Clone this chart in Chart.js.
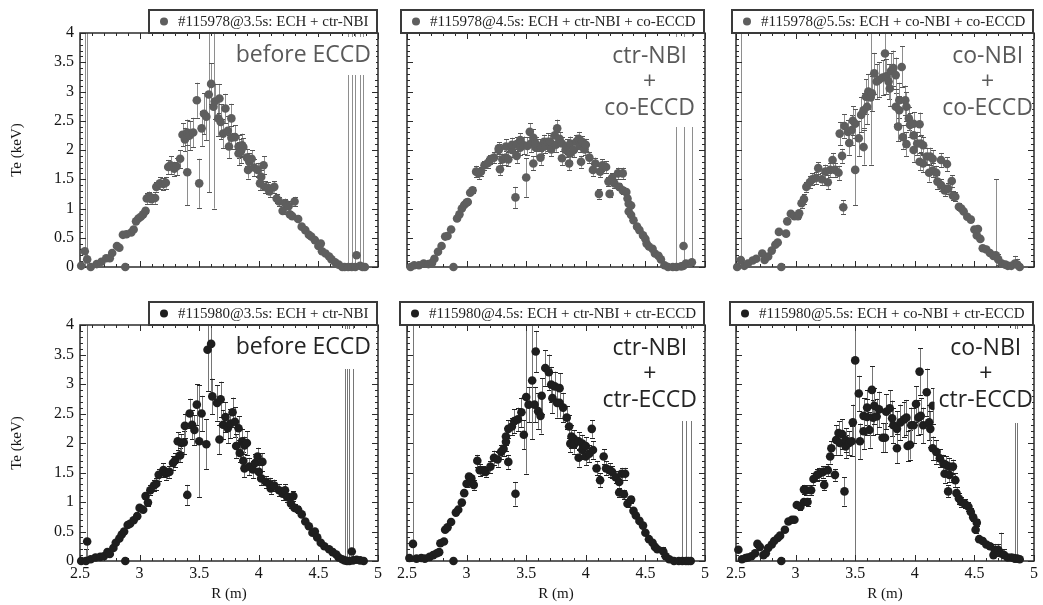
<!DOCTYPE html>
<html><head><meta charset="utf-8">
<script src="https://cdn.jsdelivr.net/npm/chart.js@4.4.1/dist/chart.umd.min.js"></script>
<style>
html,body{margin:0;padding:0;background:#fff;}
#wrap{position:relative;width:1043px;height:605px;overflow:hidden;}
#wrap canvas{position:absolute;left:0;top:0;}
</style></head><body><div id="wrap"></div>
<script>
// ---------- DATA ----------
const legendLabels = [
  '#115978@3.5s: ECH + ctr-NBI',
  '#115978@4.5s: ECH + ctr-NBI + co-ECCD',
  '#115978@5.5s: ECH + co-NBI + co-ECCD',
  '#115980@3.5s: ECH + ctr-NBI',
  '#115980@4.5s: ECH + ctr-NBI + ctr-ECCD',
  '#115980@5.5s: ECH + co-NBI + ctr-ECCD'
];
const noteTexts = [
  ['before ECCD'],
  ['ctr-NBI', '+', 'co-ECCD'],
  ['co-NBI', '+', 'co-ECCD'],
  ['before ECCD'],
  ['ctr-NBI', '+', 'ctr-ECCD'],
  ['co-NBI', '+', 'ctr-ECCD']
];
const xTitle = 'R (m)';
const yTitle = 'Te (keV)';

// Panel 1: #115978@3.5s
const r1 = [
2.51,2.54,2.56,2.59,2.64,2.68,2.72,2.75,2.77,2.81,
2.83,2.86,2.88,2.89,2.93,2.95,2.97,2.99,3.01,3.03,
3.05,3.06,3.08,3.10,3.13,3.14,3.17,3.20,3.22,3.24,
3.26,3.29,3.31,3.34,3.36,3.38,3.40,3.40,3.42,3.45,
3.48,3.50,3.52,3.54,3.56,3.58,3.60,3.62,3.63,3.66,
3.67,3.68,3.70,3.72,3.74,3.75,3.77,3.77,3.80,3.83,
3.83,3.85,3.86,3.87,3.90,3.91,3.92,3.94,3.96,3.99,
4.01,4.02,4.04,4.05,4.08,4.09,4.13,4.15,4.17,4.20,
4.22,4.25,4.26,4.28,4.30,4.33,4.36,4.39,4.42,4.44,
4.47,4.50,4.52,4.53,4.56,4.59,4.61,4.64,4.67,4.70,
4.72,4.75,4.78,4.81,4.82,4.85,4.87,4.89];
const te1 = [
0.02,0.27,0.13,0.00,0.05,0.09,0.15,0.15,0.24,0.36,
0.33,0.55,0.00,0.56,0.59,0.64,0.78,0.83,0.86,0.90,
0.96,1.17,1.21,1.16,1.18,1.37,1.43,1.42,1.44,1.71,
1.74,1.68,1.72,1.85,2.26,2.18,1.62,2.30,2.25,2.30,
2.85,1.43,2.37,2.62,2.57,2.95,3.13,2.74,2.83,2.54,
2.88,2.48,2.28,2.71,2.33,2.06,2.54,2.21,2.22,2.06,
1.94,1.98,2.08,2.05,1.87,1.66,1.80,1.85,1.70,1.66,
1.43,1.54,1.74,1.37,1.35,1.29,1.37,1.17,1.12,0.96,
1.09,1.04,0.90,0.87,1.12,0.82,0.69,0.63,0.55,0.52,
0.46,0.36,0.40,0.27,0.23,0.18,0.13,0.08,0.04,0.00,
0.00,0.00,0.00,0.00,0.20,0.02,0.00,0.00];
const er1 = [
0,5,5,0,0,0,0,0,0,0,
0,0,0,0,0,0,0,0,0,0,
0.03,0.1,0.08,0.08,0.1,0.08,0.1,0.1,0.1,0.12,
0.15,0.12,0.15,0.15,0.2,0.2,0.56,0.22,0.25,0.25,
0.3,0.42,0.3,0.35,0.4,1.67,0.35,1.74,0.3,0.3,
0.25,0.3,0.25,0.25,0.25,0.2,0.25,0.2,0.2,0.2,
0.2,0.2,0.2,0.15,0.15,0.15,0.15,0.15,0.15,0.12,
0.12,0.12,0.15,0.1,0.1,0.1,0.1,0.08,0.08,0.06,
0.08,0.08,0.05,0.05,0.08,0.03,0,0,0,0,
0,0,0,0,0,0,0,0,0,0,
0,5,5,5,0,5,5,0];

// Panel 2: #115978@4.5s
const r2 = [
2.53,2.56,2.60,2.64,2.68,2.71,2.73,2.76,2.79,2.82,
2.84,2.87,2.89,2.92,2.94,2.96,2.98,3.00,3.01,3.03,
3.05,3.08,3.10,3.12,3.15,3.18,3.20,3.23,3.27,3.27,
3.28,3.30,3.33,3.33,3.35,3.38,3.38,3.41,3.42,3.42,
3.45,3.45,3.48,3.50,3.51,3.53,3.54,3.56,3.56,3.58,
3.58,3.62,3.62,3.63,3.65,3.66,3.68,3.70,3.71,3.74,
3.75,3.76,3.78,3.80,3.80,3.83,3.84,3.86,3.87,3.87,
3.90,3.92,3.94,3.95,3.96,3.97,3.99,4.00,4.03,4.06,
4.08,4.11,4.12,4.14,4.17,4.19,4.20,4.22,4.24,4.27,
4.28,4.31,4.31,4.34,4.35,4.36,4.36,4.38,4.38,4.40,
4.43,4.45,4.48,4.50,4.51,4.53,4.56,4.58,4.61,4.63,
4.66,4.69,4.73,4.76,4.80,4.82,4.82,4.84,4.89];
const te2 = [
0.00,0.03,0.03,0.06,0.05,0.07,0.14,0.26,0.36,0.52,
0.53,0.64,0.00,0.83,0.90,1.00,1.06,1.10,1.11,1.27,
1.31,1.63,1.60,1.63,1.74,1.78,1.84,1.87,2.00,2.03,
1.67,1.84,1.87,2.06,1.84,2.00,2.09,1.19,1.90,2.10,
2.04,2.17,2.08,1.53,2.07,2.31,2.11,1.77,2.21,2.04,
2.11,1.87,2.06,2.04,2.14,2.07,2.14,2.14,2.01,2.25,
2.09,2.37,2.19,1.86,2.11,2.00,2.06,1.77,1.94,2.11,
2.00,2.14,2.19,2.07,1.80,2.14,2.01,2.09,1.87,1.66,
1.77,1.25,1.63,1.74,1.71,1.46,1.25,1.52,1.43,1.60,
1.37,1.60,1.31,1.28,1.17,1.08,0.95,1.05,0.89,0.80,
0.69,0.63,0.54,0.48,0.40,0.35,0.31,0.23,0.19,0.13,
0.03,0.00,0.00,0.00,0.01,0.02,0.36,0.06,0.08];
const er2 = [
0,0,0,0,0,0,0,0,0,0,
0,0,0,0,0,0,0,0,0,0.03,
0.05,0.1,0.1,0.08,0.08,0.08,0.08,0.1,0.1,0.1,
0.1,0.1,0.12,0.12,0.12,0.12,0.12,0.18,0.12,0.12,
0.12,0.12,0.15,0.33,0.15,0.15,0.15,0.12,0.15,0.15,
0.12,0.12,0.12,0.12,0.12,0.12,0.15,0.12,0.12,0.12,
0.12,0.15,0.12,0.12,0.12,0.12,0.12,0.12,0.12,0.12,
0.12,0.12,0.12,0.1,0.1,0.1,0.1,0.1,0.1,0.1,
0.1,0.08,0.1,0.1,0.1,0.08,0.06,0.08,0.08,0.1,
0.06,0.1,0.06,0.05,0.04,0.03,0,0.03,0,0,
0,0,0,0,0,0,0,0,0,0,
0,0,0,5,0,5,0,0,5];

// Panel 3: #115978@5.5s
const r3 = [
2.51,2.54,2.57,2.60,2.64,2.67,2.72,2.74,2.77,2.80,
2.83,2.85,2.86,2.88,2.92,2.93,2.96,2.99,3.02,3.03,
3.05,3.07,3.09,3.12,3.14,3.17,3.19,3.22,3.25,3.27,
3.29,3.31,3.33,3.36,3.37,3.39,3.40,3.41,3.44,3.45,
3.47,3.48,3.50,3.50,3.53,3.55,3.57,3.57,3.59,3.60,
3.61,3.63,3.64,3.66,3.68,3.70,3.73,3.75,3.76,3.78,
3.79,3.80,3.82,3.84,3.84,3.86,3.87,3.87,3.89,3.90,
3.92,3.93,3.93,3.95,3.96,3.99,3.99,3.99,4.02,4.04,
4.04,4.05,4.07,4.07,4.10,4.12,4.13,4.15,4.15,4.18,
4.19,4.22,4.22,4.25,4.27,4.28,4.31,4.32,4.34,4.37,
4.39,4.41,4.44,4.47,4.50,4.52,4.53,4.55,4.57,4.60,
4.63,4.66,4.68,4.70,4.73,4.76,4.78,4.81,4.84,4.86,
4.88];
const te3 = [
0.00,0.12,0.02,0.06,0.11,0.14,0.23,0.12,0.18,0.28,
0.38,0.42,0.60,0.00,0.57,0.78,0.91,0.87,0.87,0.92,
1.09,1.16,1.37,1.45,1.50,1.52,1.69,1.50,1.63,1.45,
1.66,1.83,1.66,1.61,2.28,1.90,1.02,2.41,2.31,2.12,
2.34,2.50,1.66,2.45,2.20,2.60,2.05,2.68,2.91,2.74,
3.00,2.90,2.97,3.31,3.17,3.20,3.24,3.65,3.26,3.17,
3.05,3.35,3.40,3.28,2.74,2.40,2.85,2.68,3.42,2.22,
2.85,2.74,2.10,2.54,2.43,2.45,2.25,2.00,2.11,2.44,
1.80,2.11,2.08,1.77,1.89,1.61,1.89,1.85,1.65,1.61,
1.46,1.83,1.40,1.31,1.76,1.34,1.47,1.22,1.20,1.03,
1.00,0.95,0.86,0.81,0.64,0.54,0.65,0.48,0.32,0.30,
0.24,0.19,0.20,0.13,0.06,0.04,0.02,0.02,0.06,0.04,
0.00];
const er3 = [
0,5,0,0,0,0,0,0,0,0,
0,0,0,0,0,0,0,0,0.05,0.05,
0.08,0.08,0.08,0.1,0.1,0.1,0.1,0.1,0.12,0.12,
0.12,0.12,0.12,0.12,0.2,0.12,0.12,0.2,0.2,0.2,
0.25,0.25,0.6,0.25,0.3,0.3,0.3,0.3,0.3,0.3,
0.3,1.15,0.3,0.35,0.3,0.3,0.3,0.35,0.3,0.3,
0.3,0.3,0.3,0.3,0.3,0.25,0.3,0.25,0.35,0.2,
0.25,0.25,0.2,0.2,0.2,0.2,0.2,0.2,0.2,0.2,
0.15,0.15,0.15,0.15,0.15,0.15,0.15,0.15,0.12,0.12,
0.12,0.12,0.1,0.1,0.12,0.1,0.1,0.08,0.08,0.06,
0.05,0.05,0.04,0.04,0,0,0,0,0,0,
0,0,1.3,0.1,0,0,0,0,0.13,0.1,
0];

// Panel 4: #115980@3.5s
const r4 = [
2.51,2.55,2.56,2.59,2.63,2.67,2.70,2.73,2.75,2.78,
2.80,2.83,2.85,2.87,2.88,2.90,2.92,2.95,2.98,3.00,
3.03,3.05,3.07,3.09,3.12,3.14,3.16,3.20,3.22,3.25,
3.28,3.30,3.32,3.34,3.35,3.37,3.38,3.40,3.42,3.44,
3.46,3.48,3.50,3.52,3.56,3.57,3.60,3.61,3.65,3.67,
3.68,3.70,3.72,3.74,3.76,3.78,3.80,3.81,3.83,3.84,
3.86,3.87,3.88,3.88,3.90,3.92,3.95,3.97,3.99,4.00,
4.02,4.03,4.06,4.09,4.10,4.13,4.17,4.20,4.22,4.24,
4.27,4.29,4.30,4.33,4.36,4.39,4.42,4.45,4.47,4.49,
4.52,4.55,4.59,4.62,4.65,4.67,4.70,4.72,4.74,4.76,
4.78,4.79,4.82,4.85,4.88];
const te4 = [
0.00,0.00,0.33,0.03,0.06,0.07,0.08,0.15,0.12,0.22,
0.31,0.38,0.45,0.50,0.00,0.61,0.63,0.69,0.76,0.90,
0.87,1.10,0.99,1.20,1.28,1.31,1.46,1.54,1.48,1.51,
1.66,1.71,2.03,1.79,2.00,2.01,2.29,1.12,2.50,2.31,
2.22,2.65,2.03,2.50,1.98,3.58,3.68,2.79,2.68,2.06,
2.74,2.31,2.44,2.25,2.33,2.52,2.36,1.95,2.25,1.83,
2.03,1.70,1.96,1.57,2.00,1.60,1.55,1.66,1.77,1.51,
1.40,1.68,1.34,1.31,1.23,1.28,1.20,1.14,1.20,1.08,
0.97,1.10,0.90,0.87,0.79,0.67,0.59,0.48,0.50,0.40,
0.31,0.25,0.20,0.15,0.11,0.06,0.03,0.01,0.00,0.00,
0.16,0.01,0.02,0.01,0.00];
const er4 = [
0,0.2,5,0,0,0,0,0,0,0,
0,0,0,0,0,0,0,0,0,0.03,
0.03,0.05,0.05,0.08,0.1,0.1,0.1,0.12,0.1,0.1,
0.12,0.12,0.15,0.12,0.15,0.2,0.2,0.17,0.25,0.25,
0.25,0.35,0.95,0.3,0.42,0.7,0.9,0.3,0.3,0.25,
0.3,0.25,0.25,0.25,0.25,0.25,0.25,0.2,0.2,0.15,
0.2,0.15,0.15,0.15,0.2,0.15,0.15,0.15,0.15,0.12,
0.12,0.15,0.1,0.1,0.1,0.1,0.1,0.1,0.1,0.08,
0.08,0.08,0.06,0.06,0.03,0,0,0,0,0,
0,0,0,0,0,0,0,5,5,5,
0,5,0,0,0];

// Panel 5: #115980@4.5s
const r5 = [
2.52,2.55,2.58,2.62,2.65,2.69,2.72,2.75,2.77,2.78,
2.81,2.82,2.84,2.87,2.89,2.91,2.93,2.96,2.98,3.00,
3.02,3.04,3.06,3.09,3.11,3.14,3.16,3.20,3.23,3.26,
3.29,3.31,3.33,3.33,3.35,3.35,3.38,3.40,3.41,3.43,
3.46,3.48,3.50,3.52,3.55,3.57,3.58,3.60,3.62,3.63,
3.66,3.69,3.71,3.72,3.74,3.76,3.78,3.78,3.81,3.84,
3.86,3.87,3.88,3.90,3.90,3.94,3.94,3.97,3.97,4.00,
4.00,4.03,4.05,4.06,4.09,4.12,4.15,4.17,4.20,4.22,
4.25,4.28,4.28,4.30,4.32,4.33,4.35,4.38,4.40,4.42,
4.45,4.48,4.50,4.53,4.56,4.58,4.60,4.65,4.67,4.70,
4.74,4.78,4.81,4.84,4.86,4.88];
const te5 = [
0.05,0.29,0.04,0.05,0.04,0.07,0.10,0.13,0.15,0.30,
0.33,0.53,0.57,0.66,0.00,0.82,0.87,0.99,1.15,1.31,
1.43,1.40,1.29,1.70,1.54,1.53,1.51,1.60,1.75,1.72,
1.85,1.90,2.02,2.11,1.68,2.24,2.28,2.37,1.14,2.40,
2.52,2.14,2.78,2.65,3.06,2.65,3.55,2.54,2.46,2.80,
3.27,3.20,2.99,2.76,2.96,2.68,2.93,2.68,2.60,2.43,
2.28,1.99,2.11,2.07,1.97,2.03,1.75,1.99,1.88,1.95,
1.77,1.82,2.24,1.88,1.57,1.37,1.77,1.57,1.54,1.51,
1.42,1.34,1.16,1.48,1.13,1.48,0.97,1.04,0.85,0.77,
0.68,0.60,0.48,0.37,0.31,0.24,0.20,0.16,0.08,0.03,
0.00,0.00,0.00,0.00,0.00,0.00];
const er5 = [
0,5,0,0,0,0,0,0,0,0,
0,0,0,0,0,0,0,0,0,0.05,
0.06,0.06,0.08,0.1,0.1,0.08,0.08,0.1,0.12,0.12,
0.12,0.12,0.15,0.15,0.12,0.15,0.15,0.2,0.2,0.2,
0.25,0.25,1.3,0.3,1.0,0.3,0.35,0.3,0.3,0.3,
0.3,0.3,0.3,0.25,0.25,0.25,0.25,0.25,0.25,0.2,
0.2,0.15,0.2,0.15,0.15,0.15,0.15,0.15,0.15,0.15,
0.15,0.15,0.15,0.15,0.12,0.12,0.12,0.12,0.12,0.1,
0.1,0.1,0.08,0.1,0.08,0.1,0.05,0.06,0,0,
0,0,0,0,0,0,0,0.08,0,0,
0,0,5,5,0,5];

// Panel 6: #115980@5.5s
const r6 = [
2.52,2.55,2.58,2.60,2.63,2.66,2.68,2.70,2.73,2.75,
2.77,2.80,2.82,2.85,2.87,2.88,2.91,2.94,2.97,2.99,
3.01,3.04,3.07,3.07,3.09,3.10,3.13,3.15,3.18,3.20,
3.23,3.24,3.27,3.29,3.30,3.33,3.34,3.36,3.37,3.39,
3.41,3.42,3.42,3.45,3.47,3.48,3.50,3.53,3.54,3.57,
3.57,3.60,3.60,3.62,3.64,3.65,3.66,3.68,3.70,3.73,
3.75,3.76,3.79,3.81,3.82,3.85,3.85,3.88,3.91,3.93,
3.94,3.96,3.97,3.99,4.01,4.03,4.04,4.05,4.07,4.10,
4.12,4.13,4.15,4.15,4.18,4.21,4.24,4.25,4.26,4.28,
4.29,4.29,4.32,4.34,4.35,4.37,4.39,4.42,4.45,4.47,
4.49,4.51,4.52,4.54,4.57,4.60,4.63,4.66,4.67,4.70,
4.72,4.75,4.78,4.81,4.83,4.84,4.86,4.88];
const te6 = [
0.19,0.03,0.05,0.06,0.08,0.13,0.29,0.24,0.10,0.13,
0.22,0.28,0.34,0.39,0.43,0.00,0.53,0.67,0.70,0.70,
0.95,0.92,1.00,1.21,1.20,1.00,1.20,1.39,1.46,1.48,
1.51,1.29,1.54,1.77,1.91,1.46,2.05,2.17,2.00,2.15,
1.18,1.94,2.05,2.00,2.03,2.35,3.40,2.84,2.03,2.46,
2.20,2.60,2.44,2.22,2.90,2.43,2.63,2.45,2.57,2.09,
2.09,2.53,2.59,2.42,2.30,2.24,1.91,2.35,2.40,2.43,
1.95,1.97,2.30,2.30,2.66,2.43,3.21,2.46,2.30,2.86,
2.35,2.24,2.63,1.91,1.85,1.74,1.65,1.48,1.63,1.18,
1.60,1.46,1.60,1.37,1.15,1.06,1.00,0.97,0.92,0.83,
0.74,0.53,0.65,0.37,0.34,0.28,0.25,0.10,0.19,0.19,
0.13,0.10,0.06,0.06,0.05,0.04,0.04,0.03];
const er6 = [
0,0,0,0,0,0,0.05,0,0,0,
0,0,0,0,0,0,0,0,0,0,
0.05,0.05,0.05,0.08,0.08,0.06,0.08,0.1,0.1,0.1,
0.1,0.08,0.1,0.12,0.12,0.1,0.25,0.2,0.2,0.25,
0.24,0.2,0.2,0.2,0.25,0.3,5,0.3,0.3,0.3,
0.3,0.3,0.3,0.3,0.4,0.3,0.3,0.3,0.3,0.25,
0.25,0.3,0.3,0.3,0.3,0.3,0.25,0.3,0.3,0.3,
0.25,0.25,0.3,0.3,0.3,0.3,0.4,0.3,0.3,0.4,
0.3,0.3,0.3,0.2,0.2,0.15,0.15,0.15,0.15,0.1,
0.15,0.12,0.12,0.12,0.1,0.1,0.08,0.08,0.08,0.06,
0.06,0.06,0.06,0,0,0,0.05,0,0.1,0.1,
0.35,0.1,0.05,0.05,0,5,5,0];

const seriesR = [r1, r2, r3, r4, r5, r6];
const seriesTe = [te1, te2, te3, te4, te5, te6];
const seriesErr = [er1, er2, er3, er4, er5, er6];

// ---------- LAYOUT / STYLE ----------
const PW = 1043, PH = 605;
const colX = [[80, 378], [407, 705], [736, 1034]];
const rowY = [[33, 267], [325, 561]];
const YW = 72, XH = 42;
const rowStyle = [
  {point: '#5e5e5e', err: '#8e8e8e', cap: '#555555', note: '#5a5a5a'},
  {point: '#1e1e1e', err: '#767676', cap: '#222222', note: '#242424'}
];
const noteLayout = [
  {align: 'right', margin: 7, base: [29], boxB: 42},
  {align: 'center', margin: 10, base: [30, 56, 82], boxB: 94},
  {align: 'center', margin: 1, base: [30, 56, 82], boxB: 94},
  {align: 'right', margin: 7, base: [29], boxB: 44},
  {align: 'center', margin: 8, base: [30, 56, 82], boxB: 96},
  {align: 'center', margin: 1, base: [30, 56, 82], boxB: 98}
];
const SERIF = '"Liberation Serif", "Times New Roman", serif';
const SANS = '"Open Sans", "Noto Sans", sans-serif';
const fmtTick = v => String(Math.round(v * 10) / 10);

// ---------- PLUGINS ----------
const framePlugin = {
  id: 'frameErr',
  beforeDatasetsDraw(chart) {
    const {ctx, chartArea: a, scales: {x, y}} = chart;
    const ds = chart.data.datasets[0];
    ctx.save();
    ctx.beginPath();
    ctx.rect(a.left, a.top, a.right - a.left, a.bottom - a.top);
    ctx.clip();
    ds.data.forEach((p, i) => {
      const e = ds.errors[i];
      if (!e) return;
      const px = Math.round(x.getPixelForValue(p.x)) + 0.5;
      const yT = y.getPixelForValue(p.y + e), yB = y.getPixelForValue(p.y - e);
      ctx.lineWidth = 1;
      ctx.strokeStyle = ds.errColor;
      ctx.beginPath(); ctx.moveTo(px, yT); ctx.lineTo(px, yB); ctx.stroke();
      ctx.strokeStyle = ds.capColor;
      ctx.beginPath();
      ctx.moveTo(px - 2.5, Math.round(yT) + 0.5); ctx.lineTo(px + 2.5, Math.round(yT) + 0.5);
      ctx.moveTo(px - 2.5, Math.round(yB) + 0.5); ctx.lineTo(px + 2.5, Math.round(yB) + 0.5);
      ctx.stroke();
    });
    ctx.restore();
    // frame + inward ticks
    ctx.save();
    ctx.strokeStyle = '#2b2b2b';
    ctx.lineWidth = 1.5;
    ctx.strokeRect(a.left, a.top, a.right - a.left, a.bottom - a.top);
    ctx.lineWidth = 1;
    ctx.beginPath();
    for (let k = 0; k <= 25; k++) {
      const px = Math.round(x.getPixelForValue(2.5 + k * 0.1)) + 0.5;
      const L = k % 5 === 0 ? 6 : 3;
      ctx.moveTo(px, a.bottom); ctx.lineTo(px, a.bottom - L);
      ctx.moveTo(px, a.top); ctx.lineTo(px, a.top + L);
    }
    for (let k = 0; k <= 40; k++) {
      const py = Math.round(y.getPixelForValue(k * 0.1)) + 0.5;
      const L = k % 5 === 0 ? 6 : 3;
      ctx.moveTo(a.left, py); ctx.lineTo(a.left + L, py);
      ctx.moveTo(a.right, py); ctx.lineTo(a.right - L, py);
    }
    ctx.stroke();
    ctx.restore();
  }
};

const notePlugin = {
  id: 'note',
  afterDatasetsDraw(chart, args, o) {
    const {ctx, chartArea: a} = chart;
    const lay = o.layout;
    ctx.save();
    ctx.font = '23px ' + SANS;
    const widths = o.lines.map(t => ctx.measureText(t).width);
    const maxW = Math.max(...widths);
    const right = a.right - lay.margin;
    const boxL = right - maxW - 4;
    ctx.fillStyle = '#ffffff';
    ctx.fillRect(boxL, a.top + 4, a.right - 2 - boxL, lay.boxB - 4);
    ctx.fillStyle = o.color;
    ctx.textBaseline = 'alphabetic';
    o.lines.forEach((t, i) => {
      const w = widths[i];
      const tx = lay.align === 'right' ? right - w : right - maxW / 2 - w / 2;
      ctx.fillText(t, tx, a.top + lay.base[i]);
    });
    ctx.restore();
  }
};

const legendBoxPlugin = {
  id: 'legendBox',
  afterDraw(chart) {
    const {ctx, chartArea: a} = chart;
    const ds = chart.data.datasets[0];
    ctx.save();
    ctx.font = '15px ' + SERIF;
    const tw = ctx.measureText(ds.label).width;
    const bw = Math.round(tw + 39), bh = 24;
    const x0 = a.right - bw, y0 = a.top - bh;
    ctx.fillStyle = '#ffffff';
    ctx.fillRect(x0, y0, bw, bh);
    ctx.strokeStyle = '#3a3a3a';
    ctx.lineWidth = 2;
    ctx.strokeRect(x0 + 1, y0 + 1, bw - 2, bh - 1);
    ctx.fillStyle = ds.backgroundColor;
    ctx.beginPath();
    ctx.arc(x0 + 16, y0 + bh / 2 + 0.5, 4, 0, Math.PI * 2);
    ctx.fill();
    ctx.fillStyle = '#222';
    ctx.textBaseline = 'middle';
    ctx.fillText(ds.label, x0 + 30, y0 + bh / 2 + 1.5);
    ctx.restore();
  }
};

// ---------- CHARTS ----------
const wrap = document.getElementById('wrap');
for (let p = 0; p < 6; p++) {
  const row = Math.floor(p / 3), col = p % 3;
  const st = rowStyle[row];
  const cv = document.createElement('canvas');
  cv.width = PW; cv.height = PH;
  cv.style.width = PW + 'px'; cv.style.height = PH + 'px';
  wrap.appendChild(cv);
  const [xl, xr] = colX[col];
  const [yt, yb] = rowY[row];
  const pts = seriesR[p].map((r, i) => ({x: r, y: seriesTe[p][i]}));
  new Chart(cv.getContext('2d'), {
    type: 'scatter',
    data: {
      datasets: [{
        label: legendLabels[p],
        data: pts,
        errors: seriesErr[p],
        errColor: st.err,
        capColor: st.cap,
        backgroundColor: st.point,
        borderColor: st.point,
        borderWidth: 0,
        pointRadius: 4.3,
        pointHoverRadius: 4.3,
        clip: false
      }]
    },
    options: {
      responsive: false,
      animation: false,
      devicePixelRatio: 1,
      events: [],
      layout: {padding: {left: xl - YW, right: PW - xr, top: yt, bottom: PH - yb - XH}},
      plugins: {
        legend: {display: false},
        tooltip: {enabled: false},
        note: {lines: noteTexts[p], color: st.note, layout: noteLayout[p]}
      },
      scales: {
        x: {
          type: 'linear', position: 'bottom', min: 2.5, max: 5,
          grid: {display: false, drawTicks: false},
          border: {display: false},
          ticks: {display: row === 1, stepSize: 0.5, padding: 3, color: '#151515',
                  font: {family: SERIF, size: 16}, maxRotation: 0, autoSkip: false,
                  callback: fmtTick},
          title: {display: row === 1, text: xTitle, color: '#151515',
                  font: {family: SERIF, size: 15}, padding: {top: 0, bottom: 0}},
          afterFit(s) { s.height = XH; }
        },
        y: {
          type: 'linear', position: 'left', min: 0, max: 4,
          grid: {display: false, drawTicks: false},
          border: {display: false},
          ticks: {display: col === 0, stepSize: 0.5, padding: 6, color: '#151515',
                  font: {family: SERIF, size: 16}, callback: fmtTick},
          title: {display: col === 0, text: yTitle, color: '#151515',
                  font: {family: SERIF, size: 15}, padding: {top: 0, bottom: 0}},
          afterFit(s) { s.width = YW; }
        }
      }
    },
    plugins: [framePlugin, notePlugin, legendBoxPlugin]
  });
}
</script></body></html>
